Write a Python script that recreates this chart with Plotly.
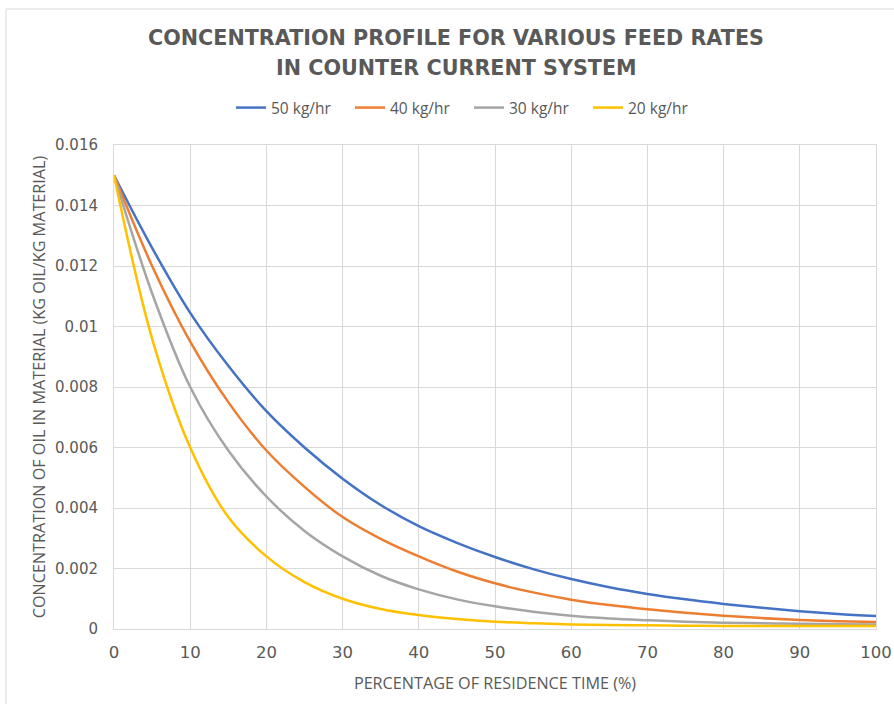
import plotly.graph_objects as go

residence_pct = [0, 5, 10, 15, 20, 25, 30, 35, 40, 45, 50, 55, 60, 65, 70, 75, 80, 85, 90, 95, 100]
feed_50 = [0.0150, 0.0126, 0.01045, 0.0087, 0.0072, 0.0060, 0.00497, 0.0041, 0.0034, 0.00285, 0.00238,
           0.00198, 0.00165, 0.00138, 0.00116, 0.00098, 0.00083, 0.0007, 0.00059, 0.0005, 0.00043]
feed_40 = [0.0150, 0.0120, 0.0095, 0.0075, 0.0059, 0.0047, 0.0037, 0.00298, 0.0024, 0.0019, 0.00151,
           0.00121, 0.00097, 0.00079, 0.00065, 0.00054, 0.00044, 0.00036, 0.0003, 0.00026, 0.00023]
feed_30 = [0.0150, 0.0111, 0.0080, 0.0059, 0.00438, 0.00324, 0.0024, 0.00176, 0.00131, 0.00098, 0.00075,
           0.00057, 0.00044, 0.00035, 0.00029, 0.00024, 0.00021, 0.00019, 0.00017, 0.00016, 0.00015]
feed_20 = [0.0150, 0.0096, 0.0060, 0.0037, 0.0024, 0.00155, 0.0010, 0.00066, 0.00046, 0.00033, 0.00024,
           0.00019, 0.00015, 0.00013, 0.00012, 0.00011, 0.0001, 0.0001, 0.0001, 0.0001, 0.0001]

series_names = ["50 kg/hr", "40 kg/hr", "30 kg/hr", "20 kg/hr"]
series_values = [feed_50, feed_40, feed_30, feed_20]
series_colors = ["#4472C4", "#ED7D31", "#A5A5A5", "#FFC000"]

title_lines = ["CONCENTRATION PROFILE FOR VARIOUS FEED RATES", "IN COUNTER CURRENT SYSTEM"]
x_ticks = [0, 10, 20, 30, 40, 50, 60, 70, 80, 90, 100]
y_ticks = [0, 0.002, 0.004, 0.006, 0.008, 0.01, 0.012, 0.014, 0.016]
y_tick_labels = ["0", "0.002", "0.004", "0.006", "0.008", "0.01", "0.012", "0.014", "0.016"]

W, H = 894, 704
ML, MR, MT, MB = 114, 18, 145, 75
PW, PH = W - ML - MR, H - MT - MB

fig = go.Figure()
for name, vals, col in zip(series_names, series_values, series_colors):
    fig.add_trace(go.Scatter(x=residence_pct, y=vals, name=name, mode="lines",
                             line=dict(color=col, width=2.5, shape="spline", smoothing=1.0)))

text_col = "#595959"
grid_col = "#D9D9D9"

annotations = []
for line, ypx in zip(title_lines, [38, 68]):
    annotations.append(dict(text=line, xref="paper", yref="paper",
                            x=(456 - ML) / PW, y=(MT + PH - ypx) / PH,
                            xanchor="center", yanchor="middle", showarrow=False,
                            font=dict(family="DejaVu Sans", size=20.7, color=text_col, weight="bold")))

fig.update_layout(
    width=W, height=H,
    margin=dict(l=ML, r=MR, t=MT, b=MB, autoexpand=False),
    paper_bgcolor="white", plot_bgcolor="white",
    annotations=annotations,
    legend=dict(orientation="h", x=231 / W, xanchor="left", xref="container",
                y=1 - 108 / H, yanchor="middle", yref="container",
                font=dict(family="Open Sans", size=15.5, color=text_col),
                itemwidth=30, entrywidth=74, entrywidthmode="pixels", tracegroupgap=0),
    showlegend=True,
    xaxis=dict(range=[0, 100], tickvals=x_ticks, showgrid=True, gridcolor=grid_col, gridwidth=1,
               zeroline=False, showline=True, linecolor=grid_col, linewidth=1, mirror=True,
               automargin=False,
               ticks="", tickfont=dict(family="DejaVu Sans", size=16.5, color=text_col),
               ticklabelstandoff=8,
               title=dict(text="PERCENTAGE OF RESIDENCE TIME (%)",
                          font=dict(family="Open Sans", size=16.2, color=text_col), standoff=16)),
    yaxis=dict(range=[0, 0.016], tickvals=y_ticks, ticktext=y_tick_labels, showgrid=True,
               gridcolor=grid_col, gridwidth=1, zeroline=False, showline=True, linecolor=grid_col,
               linewidth=1, mirror=True, ticks="", automargin=False,
               tickfont=dict(family="DejaVu Sans", size=15, color=text_col),
               ticklabelstandoff=12,
               title=dict(text="CONCENTRATION OF OIL IN MATERIAL (KG OIL/KG MATERIAL)",
                          font=dict(family="Open Sans", size=16.2, color=text_col), standoff=5)),
    shapes=[dict(type="rect", xref="paper", yref="paper",
                 x0=(6 - ML) / PW, x1=(W + 10 - ML) / PW,
                 y0=-(H + 10 - MT - PH) / PH, y1=(MT + PH - 9) / PH,
                 line=dict(color="#D9D9D9", width=1), fillcolor="rgba(0,0,0,0)", layer="below")],
)

fig.write_html("out.html")
